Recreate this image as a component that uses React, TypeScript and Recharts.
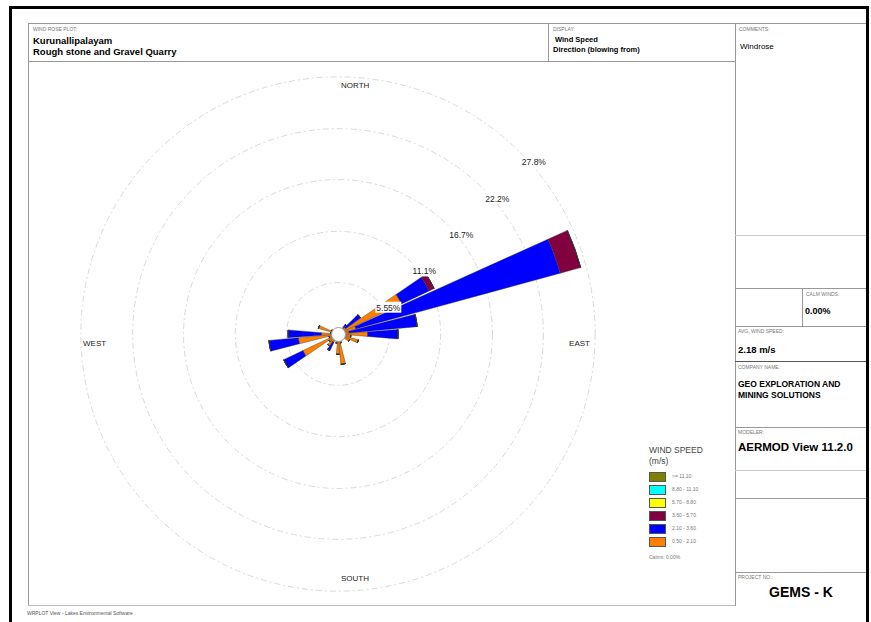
import React from "react";
import {
  RadialBarChart,
  RadialBar,
  PolarAngleAxis,
  PolarRadiusAxis,
  PolarGrid,
} from "recharts";

// direction the wind blows from, degrees
const directions = [
  "0", "10", "20", "30", "40", "50", "60", "70", "80", "90", "100", "110",
  "120", "130", "140", "150", "160", "170", "180", "190", "200", "210", "220", "230",
  "240", "250", "260", "270", "280", "290", "300", "310", "320", "330", "340", "350",
];

// frequency (%) per speed class, one value per direction
const speed050to210 = [
  0.3, 0.3, 0.4, 0.5, 0.9, 1.0, 7.6, 2.0, 1.2, 3.2, 1.4, 2.3,
  1.4, 0.7, 0.6, 0.6, 1.0, 3.3, 2.2, 1.0, 0.6, 1.0, 1.6, 1.2,
  4.2, 1.0, 4.3, 1.8, 0.8, 2.2, 0.8, 0.4, 0.3, 0.3, 0.3, 0.3,
];
const speed210to360 = [
  0, 0, 0, 0.1, 0.4, 2.0, 3.3, 22.9, 7.4, 3.3, 0, 0,
  0, 0, 0, 0, 0, 0, 0, 0, 0, 1.0, 0, 0,
  2.3, 0, 3.2, 3.6, 0, 0, 0, 0, 0, 0, 0, 0,
];
const speed360to570 = [
  0, 0, 0, 0, 0, 0, 0.6, 2.3, 0, 0, 0, 0,
  0, 0, 0, 0, 0, 0, 0, 0, 0, 0, 0, 0,
  0, 0, 0, 0, 0, 0, 0, 0, 0, 0, 0, 0,
];
const speed570to880 = [
  0, 0, 0, 0, 0, 0, 0, 0, 0, 0, 0, 0,
  0, 0, 0, 0, 0, 0, 0, 0, 0, 0, 0, 0,
  0, 0, 0, 0, 0, 0, 0, 0, 0, 0, 0, 0,
];
const speed880to1110 = [
  0, 0, 0, 0, 0, 0, 0, 0, 0, 0, 0, 0,
  0, 0, 0, 0, 0, 0, 0, 0, 0, 0, 0, 0,
  0, 0, 0, 0, 0, 0, 0, 0, 0, 0, 0, 0,
];
const speedOver1110 = [
  0, 0, 0, 0, 0, 0, 0, 0, 0, 0, 0, 0,
  0, 0, 0, 0, 0, 0, 0, 0, 0, 0, 0, 0,
  0, 0, 0, 0, 0, 0, 0, 0, 0, 0, 0, 0,
];

const ringTicks = [5.55, 11.1, 16.7, 22.2, 27.8];
const compassNames: Record<string, string> = {
  "0": "NORTH",
  "90": "EAST",
  "180": "SOUTH",
  "270": "WEST",
};

// legend, top to bottom
const speedClasses = [
  { key: "s6", label: ">= 11.10", color: "#808000" },
  { key: "s5", label: "8.80 - 11.10", color: "#00ffff" },
  { key: "s4", label: "5.70 - 8.80", color: "#ffff00" },
  { key: "s3", label: "3.60 - 5.70", color: "#800040" },
  { key: "s2", label: "2.10 - 3.60", color: "#0000ff" },
  { key: "s1", label: "0.50 - 2.10", color: "#ff8000" },
];

const rows = directions.map((dir, i) => ({
  dir,
  s1: speed050to210[i],
  s2: speed210to360[i],
  s3: speed360to570[i],
  s4: speed570to880[i],
  s5: speed880to1110[i],
  s6: speedOver1110[i],
}));

const FONT = "'Liberation Sans', Arial, sans-serif";

// chart box in page coords
const BOX_X = 28;
const BOX_Y = 63;
const CX = 310;
const CY = 271;
const R = 259;

function CompassTick(props: any) {
  const name = compassNames[String(props.payload?.value)];
  if (!name) return <g />;
  const common = { fontSize: 8, fill: "#222", fontFamily: FONT };
  if (name === "NORTH")
    return <text x={CX + 3} y={CY - R + 13} {...common}>{name}</text>;
  if (name === "SOUTH")
    return <text x={CX + 3} y={CY + R - 12} {...common}>{name}</text>;
  if (name === "EAST")
    return <text x={CX + R - 7} y={CY + 12} textAnchor="end" {...common}>{name}</text>;
  return <text x={CX - R + 4} y={CY + 12} {...common}>{name}</text>;
}

function RingTick(props: any) {
  const { x, y, payload } = props;
  const label = `${payload.value}%`;
  const w = label.length * 4.8 + 2;
  return (
    <g>
      <rect x={x + 1} y={y + 4} width={w} height={11} fill="#fff" />
      <text x={x + 2} y={y + 13} fontSize={8.5} fill="#222" fontFamily={FONT}>
        {label}
      </text>
    </g>
  );
}

function T({ x, y, size, bold, color, children, center }: any) {
  return (
    <div
      style={{
        position: "absolute",
        left: center ? x - 100 : x,
        width: center ? 200 : undefined,
        textAlign: center ? "center" : "left",
        top: y,
        fontSize: size,
        fontWeight: bold ? 700 : 400,
        color: color || "#000",
        fontFamily: FONT,
        lineHeight: 1,
        whiteSpace: "nowrap",
      }}
    >
      {children}
    </div>
  );
}

function HL({ x1, x2, y, color }: any) {
  return (
    <div
      style={{
        position: "absolute",
        left: x1,
        top: y,
        width: x2 - x1,
        height: 1,
        background: color || "#999",
      }}
    />
  );
}

function VL({ x, y1, y2, color }: any) {
  return (
    <div
      style={{
        position: "absolute",
        left: x,
        top: y1,
        width: 1,
        height: y2 - y1,
        background: color || "#999",
      }}
    />
  );
}

export default function App() {
  return (
    <div
      style={{
        position: "absolute",
        left: 0,
        top: 0,
        width: 871,
        height: 622,
        background: "#fff",
        overflow: "hidden",
        fontFamily: FONT,
      }}
    >
      {/* outer black frame */}
      <div
        style={{
          position: "absolute",
          left: 9,
          top: 6,
          width: 854,
          height: 640,
          border: "3px solid #000",
        }}
      />

      {/* plot area frame */}
      <HL x1={28} x2={866} y={23} />
      <VL x={28} y1={23} y2={606} />
      <HL x1={28} x2={735} y={605} color="#bbb" />
      <HL x1={28} x2={735} y={61} />
      <VL x={548} y1={23} y2={61} />
      <VL x={735} y1={23} y2={606} />

      {/* right panel lines */}
      <HL x1={735} x2={866} y={235} color="#ccc" />
      <HL x1={735} x2={866} y={288} />
      <VL x={802} y1={288} y2={326} />
      <HL x1={735} x2={866} y={326} />
      <HL x1={735} x2={866} y={361} color="#555" />
      <HL x1={735} x2={866} y={427} />
      <HL x1={735} x2={866} y={470} color="#ccc" />
      <HL x1={735} x2={866} y={498} />
      <HL x1={735} x2={866} y={572} />

      {/* headers */}
      <T x={33} y={27} size={5} color="#777">WIND ROSE PLOT:</T>
      <T x={33} y={36} size={9.5} bold>Kurunallipalayam</T>
      <T x={33} y={47} size={9.5} bold>Rough stone and Gravel Quarry</T>
      <T x={553} y={27} size={5} color="#777">DISPLAY:</T>
      <T x={555} y={36} size={7.5} bold>Wind Speed</T>
      <T x={553} y={46} size={7.5} bold>Direction (blowing from)</T>
      <T x={739} y={27} size={5} color="#777">COMMENTS:</T>
      <T x={740} y={43} size={8}>Windrose</T>

      <T x={806} y={292} size={5} color="#777">CALM WINDS:</T>
      <T x={805} y={307} size={9} bold>0.00%</T>
      <T x={738} y={329} size={5} color="#777">AVG. WIND SPEED:</T>
      <T x={738} y={345} size={9.5} bold>2.18 m/s</T>
      <T x={738} y={365} size={5} color="#777">COMPANY NAME:</T>
      <T x={738} y={380} size={8.5} bold>GEO EXPLORATION AND</T>
      <T x={738} y={391} size={8.5} bold>MINING SOLUTIONS</T>
      <T x={738} y={430} size={5} color="#777">MODELER:</T>
      <T x={738} y={442} size={11.5} bold>AERMOD View 11.2.0</T>
      <T x={738} y={575} size={5} color="#777">PROJECT NO.:</T>
      <T x={801} y={585} size={14} bold center>GEMS - K</T>

      <T x={27} y={611} size={5} color="#555">WRPLOT View - Lakes Environmental Software</T>

      {/* wind rose */}
      <div style={{ position: "absolute", left: BOX_X, top: BOX_Y }}>
        <RadialBarChart
          width={706}
          height={541}
          data={rows}
          cx={CX}
          cy={CY}
          innerRadius={0}
          outerRadius={R}
          startAngle={85}
          endAngle={-275}
          layout="centric"
          barCategoryGap="3%"
          margin={{ top: 0, right: 0, bottom: 0, left: 0 }}
        >
          <PolarGrid
            gridType="circle"
            radialLines={false}
            stroke="#d9d9d9"
            strokeDasharray="6 3 2 3"
          />
          <PolarAngleAxis
            type="category"
            dataKey="dir"
            axisLine={false}
            tickLine={false}
            tick={<CompassTick />}
          />
          {speedClasses
            .slice()
            .reverse()
            .map((c) => (
              <RadialBar
                key={c.key}
                dataKey={c.key}
                stackId="speed"
                fill={c.color}
                stroke="#333"
                strokeWidth={0.4}
                isAnimationActive={false}
              />
            ))}
          <PolarRadiusAxis
            type="number"
            angle={45}
            domain={[0, 27.8]}
            ticks={ringTicks}
            axisLine={false}
            tickLine={false}
            tick={<RingTick />}
          />
        </RadialBarChart>
      </div>

      {/* calm circle */}
      <div
        style={{
          position: "absolute",
          left: BOX_X + CX - 7,
          top: BOX_Y + CY - 7,
          width: 13,
          height: 13,
          borderRadius: "50%",
          background: "#fff",
          border: "0.5px solid #999",
        }}
      />

      {/* legend */}
      <T x={649} y={446} size={8.5} color="#444">WIND SPEED</T>
      <T x={649} y={457} size={8.5} color="#444">(m/s)</T>
      {speedClasses.map((c, i) => (
        <React.Fragment key={c.key}>
          <div
            style={{
              position: "absolute",
              left: 649,
              top: 472 + i * 12.9,
              width: 15,
              height: 8,
              background: c.color,
              border: "0.5px solid #555",
            }}
          />
          <T x={672} y={474 + i * 12.9} size={5} color="#777">
            {c.label}
          </T>
        </React.Fragment>
      ))}
      <T x={649} y={555} size={5} color="#777">Calms: 0.00%</T>
    </div>
  );
}
